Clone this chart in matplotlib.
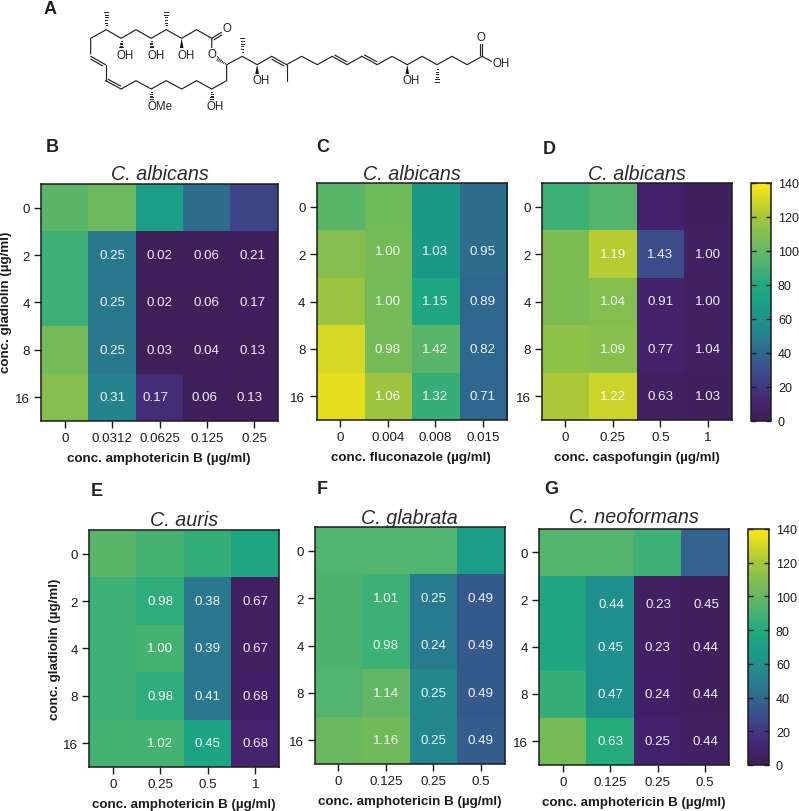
import matplotlib
matplotlib.use("Agg")
import matplotlib.pyplot as plt
import numpy as np
from matplotlib.colors import LinearSegmentedColormap

plt.rcParams["font.family"] = ["Liberation Sans", "DejaVu Sans"]

W, H = 799, 812
DARK = "#1c1c1c"
MOL_SX, MOL_SY = 2.89, 3.0

# heatmap values, rows are gladiolin 0, 2, 4, 8, 16
gladiolin = ["0", "2", "4", "8", "16"]

vals_b = [[97, 103, 68, 42, 26], [88, 47, 3, 3, 4], [88, 47, 3, 3, 4], [106, 47, 3, 3, 3], [110, 52, 15, 3, 3]]
vals_c = [[96, 104, 66, 42], [111, 105, 66, 42], [117, 105, 76, 40], [131, 105, 96, 40], [134, 118, 86, 40]]
vals_d = [[88, 95, 10, 4], [108, 124, 28, 5], [108, 110, 8, 5], [114, 112, 8, 6], [121, 128, 6, 4]]
vals_e = [[96, 90, 85, 75], [88, 84, 47, 6], [88, 90, 47, 6], [88, 84, 47, 7], [90, 90, 74, 11]]
vals_f = [[94, 94, 94, 68], [92, 88, 48, 34], [92, 88, 48, 34], [94, 100, 55, 34], [102, 104, 55, 35]]
vals_g = [[95, 95, 88, 38], [76, 60, 5, 4], [76, 60, 5, 4], [86, 60, 7, 4], [106, 82, 10, 6]]

# FICI numbers printed on the cells, first row and column have none
fici_b = [["0.25", "0.02", "0.06", "0.21"], ["0.25", "0.02", "0.06", "0.17"], ["0.25", "0.03", "0.04", "0.13"], ["0.31", "0.17", "0.06", "0.13"]]
fici_c = [["1.00", "1.03", "0.95"], ["1.00", "1.15", "0.89"], ["0.98", "1.42", "0.82"], ["1.06", "1.32", "0.71"]]
fici_d = [["1.19", "1.43", "1.00"], ["1.04", "0.91", "1.00"], ["1.09", "0.77", "1.04"], ["1.22", "0.63", "1.03"]]
fici_e = [["0.98", "0.38", "0.67"], ["1.00", "0.39", "0.67"], ["0.98", "0.41", "0.68"], ["1.02", "0.45", "0.68"]]
fici_f = [["1.01", "0.25", "0.49"], ["0.98", "0.24", "0.49"], ["1.14", "0.25", "0.49"], ["1.16", "0.25", "0.49"]]
fici_g = [["0.44", "0.23", "0.45"], ["0.45", "0.23", "0.44"], ["0.47", "0.24", "0.44"], ["0.63", "0.25", "0.44"]]

xt_b = ["0", "0.0312", "0.0625", "0.125", "0.25"]
xt_c = ["0", "0.004", "0.008", "0.015"]
xt_d = ["0", "0.25", "0.5", "1"]
xt_e = ["0", "0.25", "0.5", "1"]
xt_f = ["0", "0.125", "0.25", "0.5"]
xt_g = ["0", "0.125", "0.25", "0.5"]

cbar_ticks = [0, 20, 40, 60, 80, 100, 120, 140]

# muted viridis
cmap_pos = [0, 10, 20, 30, 40, 50, 60, 70, 80, 90, 100, 110, 120, 130, 140]
cmap_rgb = [(62, 32, 85), (68, 35, 110), (68, 55, 130), (58, 80, 140), (48, 104, 142),
            (38, 128, 143), (32, 145, 140), (28, 160, 135), (32, 170, 128), (70, 178, 115),
            (100, 183, 100), (130, 190, 80), (165, 198, 60), (210, 215, 40), (250, 230, 20)]
vir = LinearSegmentedColormap.from_list(
    "muted", [(p / 140, tuple(c / 255 for c in rgb)) for p, rgb in zip(cmap_pos, cmap_rgb)])

ring_top = [(262, 165), (262, 118), (307, 92), (350, 118), (393, 92), (437, 118), (480, 92), (525, 118), (568, 92), (612, 118), (612, 150)]
ring_bot = [(305, 197), (305, 245)]
ring_low = [(350, 270), (393, 245), (437, 270), (480, 245), (525, 270), (568, 245), (612, 270), (655, 245), (655, 197), (700, 172), (743, 197), (785, 172)]
tail_a = [(828, 197), (872, 172), (917, 197), (960, 172)]
tail_b = [(1003, 197), (1046, 172)]
tail_c = [(1090, 197), (1133, 172), (1177, 197), (1220, 172), (1263, 197), (1306, 172), (1350, 197), (1393, 172), (1420, 187)]
plain_bonds = [((828, 197), (828, 245))]
double_bonds = [((262, 172), (305, 197), 1), ((305, 245), (350, 270), -1), ((785, 172), (828, 197), 1),
                ((960, 172), (1003, 197), -1), ((1046, 172), (1090, 197), -1), ((612, 118), (640, 100), 1),
                ((1393, 172), (1393, 130), -1)]
hash_bonds = [((307, 92), (307, 40)), ((480, 92), (480, 40)), ((350, 118), (350, 150)), ((437, 118), (437, 150)),
              ((700, 172), (700, 118)), ((1263, 197), (1263, 248)), ((437, 270), (437, 305)), ((612, 270), (612, 305)),
              ((655, 197), (625, 177))]
wedge_bonds = [((525, 118), (525, 150)), ((743, 197), (743, 228)), ((1177, 197), (1177, 228))]
atom_labels = [(362, 167, "OH"), (450, 167, "OH"), (537, 167, "OH"), (655, 88, "O"), (612, 165, "O"),
               (755, 243, "OH"), (1188, 243, "OH"), (462, 322, "OMe"), (623, 322, "OH"), (1391, 115, "O"), (1448, 192, "OH")]


def add_axes_px(left, right, top, bottom):
    return fig.add_axes([left / W, 1 - bottom / H, (right - left) / W, (bottom - top) / H])


def heatmap(box, values, fici, xticks, title, title_y, xlabel, xlabel_pos, ylabel_pos=None, shift=None):
    ax = add_axes_px(*box)
    im = ax.imshow(np.array(values), cmap=vir, vmin=0, vmax=140, aspect="auto", interpolation="nearest")
    ax.set_xticks(range(len(xticks)), xticks)
    ax.set_yticks(range(len(gladiolin)), gladiolin)
    ax.tick_params(length=5, width=1.0, color=DARK, labelsize=9.6, labelcolor=DARK, pad=3)
    for s in ax.spines.values():
        s.set_linewidth(1.1)
        s.set_color(DARK)
    for r, row in enumerate(fici):
        for c, txt in enumerate(row):
            dx, dy = (shift or {}).get((r, c), (0, 0))
            ax.annotate(txt, (c + 1, r + 1), xytext=(dx, dy), textcoords="offset pixels", ha="center", va="center",
                        color="white", fontsize=9.6, alpha=0.92)
    fig.text((box[0] + box[1]) / 2 / W, 1 - title_y / H, title, ha="center", va="center",
             style="italic", fontsize=14.2, color="#2a2a2a")
    fig.text(xlabel_pos[0] / W, 1 - xlabel_pos[1] / H, xlabel, ha="center", va="center",
             fontweight="bold", fontsize=9.6, color=DARK)
    if ylabel_pos:
        fig.text(ylabel_pos[0] / W, 1 - ylabel_pos[1] / H, "conc. gladiolin (µg/ml)", rotation=90,
                 ha="center", va="center", fontweight="bold", fontsize=9.6, color=DARK)
    return im


def colorbar(im, box):
    cax = add_axes_px(*box)
    cb = fig.colorbar(im, cax=cax)
    cb.set_ticks(cbar_ticks)
    cb.outline.set_linewidth(1.1)
    cb.outline.set_edgecolor(DARK)
    cax.tick_params(direction="in", left=True, right=True, length=3.5, width=1.0, color=DARK,
                    labelsize=9.0, labelcolor=DARK, pad=5)


def to_px(point):
    return np.array([point[0] / MOL_SX, point[1] / MOL_SY])


def draw_molecule(ax):
    kw = dict(color="#222222", lw=0.85, solid_capstyle="round", solid_joinstyle="round")
    for chain in [ring_top, ring_bot, ring_low, tail_a, tail_b, tail_c]:
        pts = np.array([to_px(p) for p in chain])
        ax.plot(pts[:, 0], pts[:, 1], **kw)
    for a, b in plain_bonds:
        p, q = to_px(a), to_px(b)
        ax.plot([p[0], q[0]], [p[1], q[1]], **kw)
    for a, b, side in double_bonds:
        p, q = to_px(a), to_px(b)
        d = q - p
        n = np.array([-d[1], d[0]]) / np.hypot(*d)
        ax.plot([p[0], q[0]], [p[1], q[1]], **kw)
        off = n * 2.4 * side
        ax.plot([p[0] + off[0] + d[0] * 0.1, q[0] + off[0] - d[0] * 0.1],
                [p[1] + off[1] + d[1] * 0.1, q[1] + off[1] - d[1] * 0.1], **kw)
    for a, b in hash_bonds:
        p, q = to_px(a), to_px(b)
        d = q - p
        n = np.array([-d[1], d[0]]) / np.hypot(*d)
        for t in np.linspace(0.12, 1, 7):
            c = p + d * t
            w = 1.9 * t
            ax.plot([c[0] - n[0] * w, c[0] + n[0] * w], [c[1] - n[1] * w, c[1] + n[1] * w], color="#222222", lw=0.7)
    for a, b in wedge_bonds:
        p, q = to_px(a), to_px(b)
        d = q - p
        n = np.array([-d[1], d[0]]) / np.hypot(*d)
        ax.fill([p[0], q[0] + n[0] * 2, q[0] - n[0] * 2], [p[1], q[1] + n[1] * 2, q[1] - n[1] * 2], color="#111111", lw=0)
    for x, y, txt in atom_labels:
        ax.text(x / MOL_SX, y / MOL_SY, txt, ha="center", va="center", fontsize=8.3, color="#222222",
                bbox=dict(facecolor="white", edgecolor="none", pad=0.3))


fig = plt.figure(figsize=(W / 100, H / 100), dpi=100)

# full figure overlay for the structure, in pixels
bg = fig.add_axes([0, 0, 1, 1])
bg.set_xlim(0, W)
bg.set_ylim(H, 0)
bg.axis("off")
draw_molecule(bg)

im = heatmap((41, 278, 185, 421.7), vals_b, fici_b, xt_b, "C. albicans", 174,
             "conc. amphotericin B (µg/ml)", (159, 459), (6.5, 302),
             shift={(0, 3): (-2, 0), (1, 3): (-2, 0), (2, 3): (-2, 0), (3, 1): (-4, 0), (3, 2): (-2, 0), (3, 3): (-5, 0)})
heatmap((316.5, 506.7, 184, 421), vals_c, fici_c, xt_c, "C. albicans", 174,
        "conc. fluconazole (µg/ml)", (411, 458), shift={(0, 0): (0, 3), (0, 1): (0, 3), (0, 2): (0, 3)})
heatmap((541.7, 731.7, 184, 421), vals_d, fici_d, xt_d, "C. albicans", 174,
        "conc. caspofungin (µg/ml)", (637, 458))
colorbar(im, (751, 771, 184, 421.7))

heatmap((89, 279, 531, 767.7), vals_e, fici_e, xt_e, "C. auris", 520.5,
        "conc. amphotericin B (µg/ml)", (184, 805), (55, 649))
heatmap((314.7, 504.7, 528, 765), vals_f, fici_f, xt_f, "C. glabrata", 518.5,
        "conc. amphotericin B (µg/ml)", (410, 802))
im2 = heatmap((539, 729, 529.7, 765.7), vals_g, fici_g, xt_g, "C. neoformans", 517.5,
              "conc. amphotericin B (µg/ml)", (634, 803),
              shift={(0, 0): (1, -4), (0, 1): (1, -4), (0, 2): (1, -4)})
colorbar(im2, (748.3, 769, 530, 766))

panel_labels = [("A", 50, 9), ("B", 52, 148), ("C", 323, 148), ("D", 549, 149), ("E", 97, 492), ("F", 322, 490), ("G", 551, 490)]
for txt, x, y in panel_labels:
    fig.text(x / W, 1 - y / H, txt, ha="center", va="center", fontweight="bold", fontsize=13, color="#222222")

plt.savefig("out.png", dpi=100)
